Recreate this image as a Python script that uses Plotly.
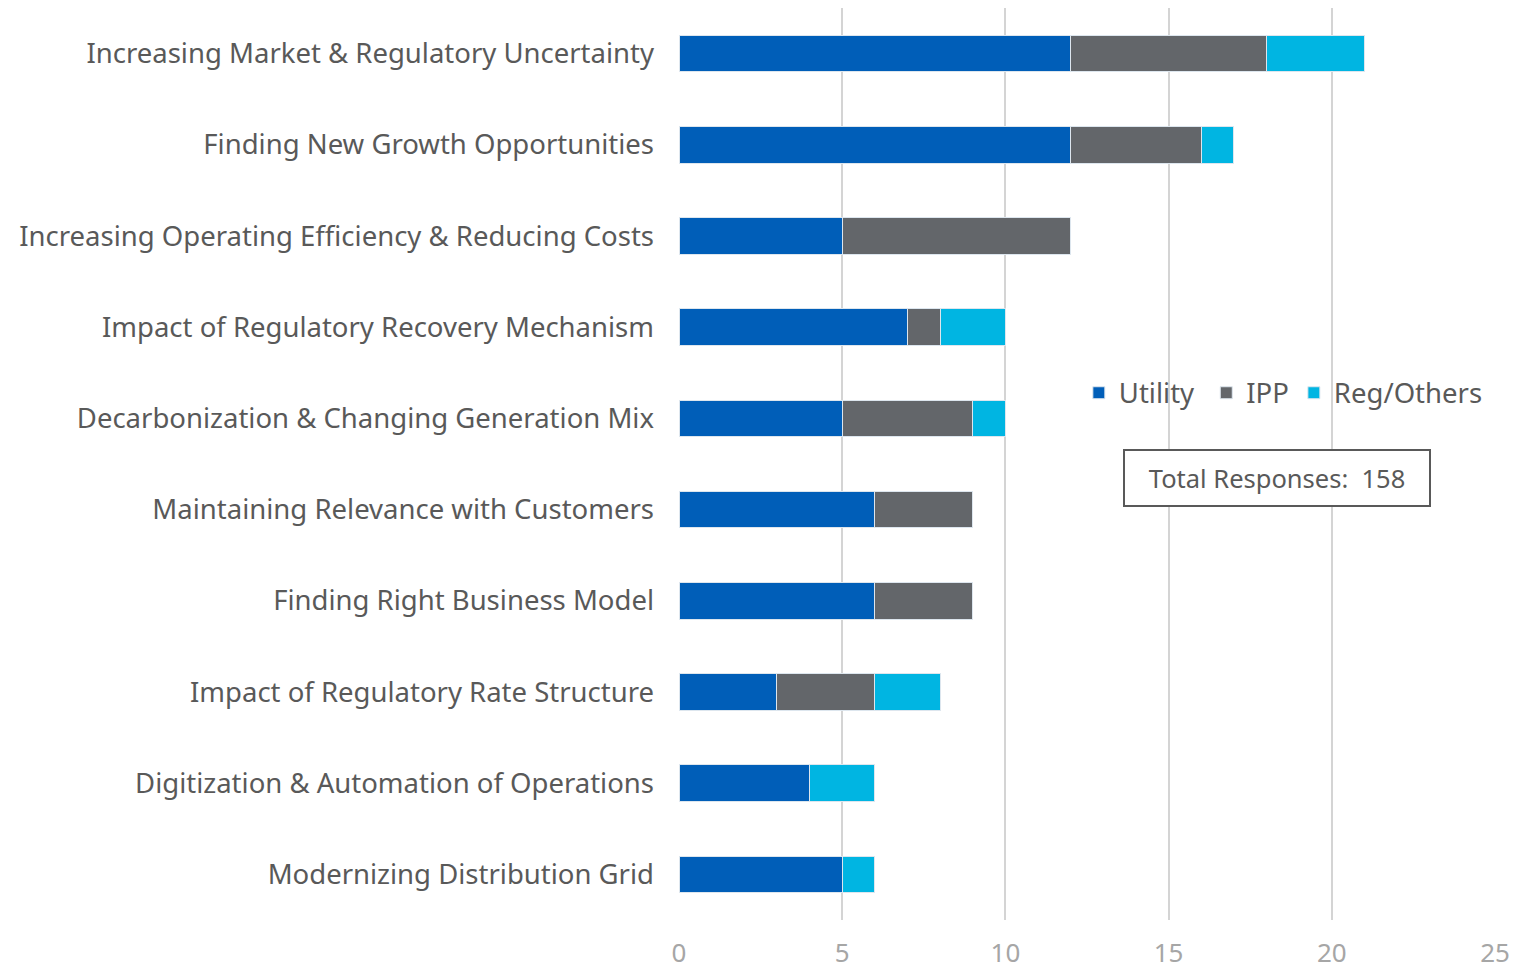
import plotly.graph_objects as go

categories = [
    'Increasing Market & Regulatory Uncertainty',
    'Finding New Growth Opportunities',
    'Increasing Operating Efficiency & Reducing Costs',
    'Impact of Regulatory Recovery Mechanism',
    'Decarbonization & Changing Generation Mix',
    'Maintaining Relevance with Customers',
    'Finding Right Business Model',
    'Impact of Regulatory Rate Structure',
    'Digitization & Automation of Operations',
    'Modernizing Distribution Grid',
]
utility = [12, 12, 5, 7, 5, 6, 6, 3, 4, 5]
ipp = [6, 4, 7, 1, 4, 3, 3, 3, 0, 0]
reg_others = [3, 1, 0, 2, 1, 0, 0, 2, 2, 1]
total_responses = 158
x_ticks = [0, 5, 10, 15, 20, 25]

g_font = 'Noto Sans'
g_label_color = '#595959'

fig = go.Figure()
# trailing nbsp widens the gap after "Utility" in the legend
for name, vals, color in [('Utility\u00a0', utility, '#005EB8'),
                          ('IPP', ipp, '#63666A'),
                          ('Reg/Others', reg_others, '#00B5E2')]:
    fig.add_trace(go.Bar(y=categories, x=vals, name=name, orientation='h',
                         marker=dict(color=color, line=dict(color='#dde6ee', width=1)),
                         width=0.4))

# page body has an 8px margin, so the figure is a bit smaller than the window
fig.update_layout(
    barmode='stack',
    width=1509, height=962,
    margin=dict(l=671, r=22, t=0, b=50),
    plot_bgcolor='white', paper_bgcolor='white',
    font=dict(family=g_font, color=g_label_color),
    legend=dict(orientation='h', x=0.490, y=0.578, xanchor='left', yanchor='middle',
                bgcolor='rgba(0,0,0,0)', font=dict(size=27.5, color=g_label_color),
                itemwidth=30, traceorder='normal'),
    annotations=[dict(text=f'Total Responses:\u00a0\u00a0{total_responses}', xref='paper', yref='paper',
                      x=0.733, y=0.485, xanchor='center', yanchor='middle', showarrow=False,
                      font=dict(size=25.5, color=g_label_color),
                      bordercolor='#595959', borderwidth=2, borderpad=10, bgcolor='white',
                      width=284)],
)
fig.update_xaxes(range=[0, 25], tickvals=x_ticks, showgrid=True, gridcolor='#d4d4d4', gridwidth=2,
                 zeroline=False, tickfont=dict(size=26, color='#a6a6a6'), ticklabelstandoff=15,
                 showline=False, automargin=False)
fig.update_yaxes(categoryorder='array', categoryarray=categories, autorange='reversed',
                 tickfont=dict(size=27.5, color=g_label_color), ticklabelstandoff=24, showgrid=False,
                 automargin=False)

fig.write_html('out.html')
